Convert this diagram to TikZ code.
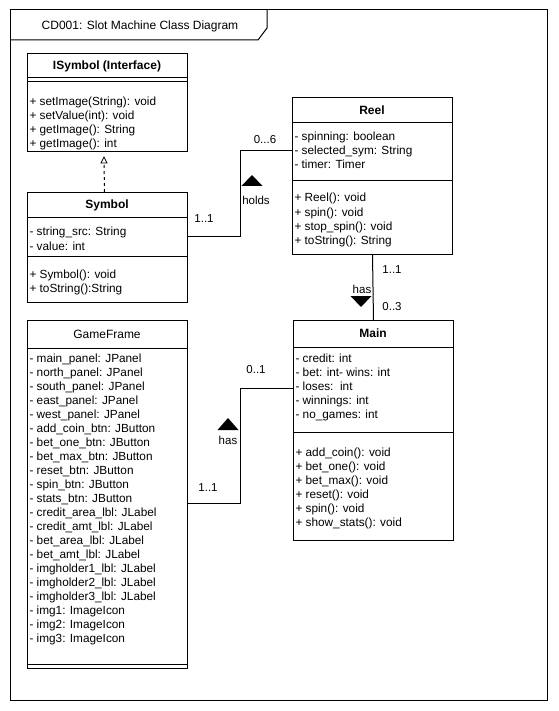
\documentclass[tikz,border=0pt]{standalone}
\usepackage{fontspec}
\setmainfont{Liberation Sans}
\usetikzlibrary{arrows.meta}
\begin{document}
\begin{tikzpicture}[x=1pt,y=-1pt,line width=1pt]
\tikzset{
  cbox/.style={draw, rectangle, inner sep=0pt, anchor=north west, minimum width=160pt},
  cname/.style={inner sep=0pt, font=\fontsize{12}{14}\selectfont\bfseries},
  cnameplain/.style={inner sep=0pt, font=\fontsize{12}{14}\selectfont},
  mem/.style={anchor=base west, inner sep=0pt, font=\fontsize{11.8}{14}\selectfont},
  lbl/.style={inner sep=0pt, font=\fontsize{11.5}{13}\selectfont},
  dirmark/.style={fill=black, draw=none},
}
\useasboundingbox (0,0) rectangle (558,711);
\fill[white] (0,0) rectangle (558,711);

% outer frame with title tab
\draw (10,10) rectangle (547,700);
\draw (10,40) -- (258,40) -- (267,28) -- (267,10);
\node[inner sep=0pt, font=\fontsize{12}{14}\selectfont] (title) at (140,26) {CD001: Slot Machine Class Diagram};

% ---------------- ISymbol (Interface)
\node[cbox, minimum height=98pt] (isym) at (27,53) {};
\node[cname] (isymname) at (107,66) {ISymbol (Interface)};
\draw (27,78) -- (187,78);
\draw (27,82) -- (187,82);
\node[mem] at (29,106) {+ setImage(String): void};
\node[mem] at (29,120) {+ setValue(int): void};
\node[mem] at (29,134) {+ getImage(): String};
\node[mem] at (29,148) {+ getImage(): int};

% ---------------- Symbol
\node[cbox, minimum height=110pt] (symbol) at (27,192) {};
\node[cname] (symbolname) at (107,205) {Symbol};
\draw (27,218) -- (187,218);
\node[mem] at (29,236) {- string\_src: String};
\node[mem] at (29,250) {- value: int};
\draw (27,256) -- (187,256);
\node[mem] at (29,278) {+ Symbol(): void};
\node[mem] at (29,292) {+ toString():String};

% ---------------- Reel
\node[cbox, minimum height=157pt] (reel) at (292,97) {};
\node[cname] (reelname) at (372,110) {Reel};
\draw (292,123) -- (452,123);
\node[mem] at (294,141) {- spinning: boolean};
\node[mem] at (294,155) {- selected\_sym: String};
\node[mem] at (294,169) {- timer: Timer};
\draw (292,181) -- (452,181);
\node[mem] at (294,202) {+ Reel(): void};
\node[mem] at (294,216) {+ spin(): void};
\node[mem] at (294,230) {+ stop\_spin(): void};
\node[mem] at (294,244) {+ toString(): String};

% ---------------- Main
\node[cbox, minimum height=220pt] (main) at (293,320) {};
\node[cname] (mainname) at (373,333) {Main};
\draw (293,347) -- (453,347);
\node[mem] at (295,362) {- credit: int};
\node[mem] at (295,376) {- bet: int- wins: int};
\node[mem] at (295,390) {- loses:\ \ int};
\node[mem] at (295,404) {- winnings: int};
\node[mem] at (295,418) {- no\_games: int};
\draw (293,432) -- (453,432);
\node[mem] at (295,456) {+ add\_coin(): void};
\node[mem] at (295,470) {+ bet\_one(): void};
\node[mem] at (295,484) {+ bet\_max(): void};
\node[mem] at (295,498) {+ reset(): void};
\node[mem] at (295,512) {+ spin(): void};
\node[mem] at (295,526) {+ show\_stats(): void};

% ---------------- GameFrame
\node[cbox, minimum height=348pt] (game) at (27,320) {};
\node[cnameplain] (gamename) at (107,334) {GameFrame};
\draw (27,348) -- (187,348);
\foreach \t [count=\i from 0] in {
  - main\_panel: JPanel,
  - north\_panel: JPanel,
  - south\_panel: JPanel,
  - east\_panel: JPanel,
  - west\_panel: JPanel,
  - add\_coin\_btn: JButton,
  - bet\_one\_btn: JButton,
  - bet\_max\_btn: JButton,
  - reset\_btn: JButton,
  - spin\_btn: JButton,
  - stats\_btn: JButton,
  - credit\_area\_lbl: JLabel,
  - credit\_amt\_lbl: JLabel,
  - bet\_area\_lbl: JLabel,
  - bet\_amt\_lbl: JLabel,
  - imgholder1\_lbl: JLabel,
  - imgholder2\_lbl: JLabel,
  - imgholder3\_lbl: JLabel,
  - img1: ImageIcon,
  - img2: ImageIcon,
  - img3: ImageIcon}
  \node[mem] at (29,{362+14*\i}) {\t};
\draw (27,664) -- (187,664);

% ---------------- realization: Symbol implements ISymbol
\draw[dashed] ([xshift=-3pt]symbol.north) -- (104,163);
\draw[line width=0.8pt, fill=white] (104,157) -- (107,163) -- (101,163) -- cycle;

% ---------------- Symbol -- Reel association (holds)
\coordinate (sr1) at (240,236);
\coordinate (sr2) at (240,151);
\draw (symbol.east |- sr1) -- (sr1) -- (sr2) -- (reel.west |- sr2);
\node[lbl] at (204,219) {1..1};
\node[lbl] at (265,140) {0...6};
\node[lbl] at (256,200) {holds};
\fill[dirmark] (252,175) -- (262.5,186) -- (241.5,186) -- cycle;

% ---------------- Reel -- Main association (has)
\draw (reel.south) -- (main.north);
\node[lbl] at (392,270) {1..1};
\node[lbl] at (392,307) {0..3};
\node[lbl] at (362,289) {has};
\fill[dirmark] (350.5,296) -- (371.5,296) -- (361,307) -- cycle;

% ---------------- GameFrame -- Main association (has)
\coordinate (gm1) at (240,503);
\coordinate (gm2) at (240,388);
\draw (game.east |- gm1) -- (gm1) -- (gm2) -- (main.west |- gm2);
\node[lbl] at (256,370) {0..1};
\node[lbl] at (208,488) {1..1};
\node[lbl] at (228,440) {has};
\fill[dirmark] (228,418) -- (238.5,430) -- (217.5,430) -- cycle;
\end{tikzpicture}
\end{document}
